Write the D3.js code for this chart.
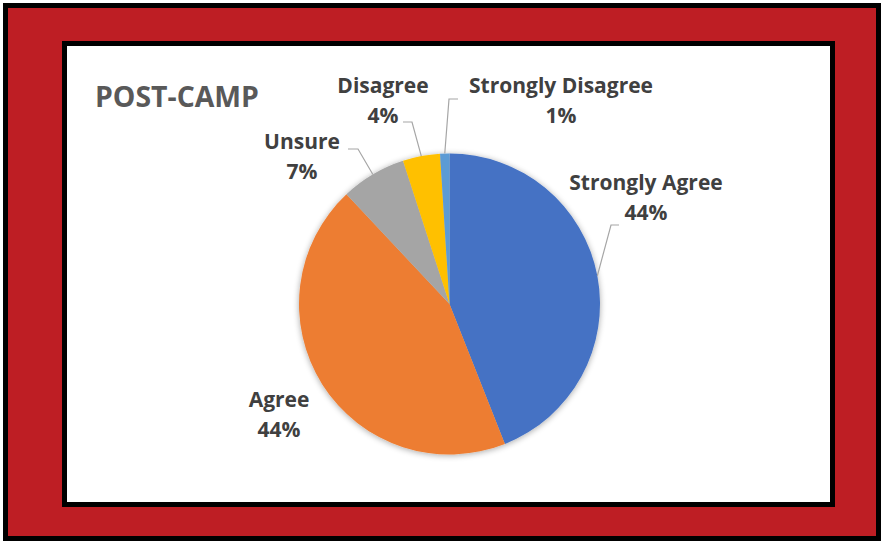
<!DOCTYPE html>
<html>
<head>
<meta charset="utf-8">
<script src="https://cdn.jsdelivr.net/npm/d3@7"></script>
<style>
  html, body { margin: 0; padding: 0; background: #fff; }
  svg { display: block; }
  text { font-family: "Open Sans", "Noto Sans", "Liberation Sans", sans-serif; font-weight: bold; }
</style>
</head>
<body>
<svg id="chart" width="882" height="542"></svg>
<script>
// Survey responses after camp
const categories = ["Strongly Agree", "Agree", "Unsure", "Disagree", "Strongly Disagree"];
const values = [44, 44, 7, 4, 1];
const percentLabels = ["44%", "44%", "7%", "4%", "1%"];
const colors = ["#4472C4", "#ED7D31", "#A5A5A5", "#FFC000", "#5B9BD5"];
const title = "POST-CAMP";

const svg = d3.select("#chart");

// Frame: red band with black borders, white panel inside
svg.append("rect").attr("x", 0).attr("y", 0).attr("width", 882).attr("height", 542).attr("fill", "#fff");
svg.append("rect").attr("x", 5.5).attr("y", 5.5).attr("width", 873).attr("height", 533)
  .attr("fill", "#BE1E24").attr("stroke", "#000").attr("stroke-width", 5);
svg.append("rect").attr("x", 64.5).attr("y", 43.5).attr("width", 768).attr("height", 461)
  .attr("fill", "#fff").attr("stroke", "#000").attr("stroke-width", 5);

// Soft shadow under the pie
const defs = svg.append("defs");
const f = defs.append("filter").attr("id", "pieShadow")
  .attr("x", "-20%").attr("y", "-20%").attr("width", "140%").attr("height", "140%");
f.append("feGaussianBlur").attr("in", "SourceAlpha").attr("stdDeviation", 3).attr("result", "b");
f.append("feOffset").attr("in", "b").attr("dx", 0).attr("dy", 1).attr("result", "o");
f.append("feComponentTransfer").attr("in", "o").attr("result", "s")
  .append("feFuncA").attr("type", "linear").attr("slope", 0.35);
const fm = f.append("feMerge");
fm.append("feMergeNode").attr("in", "s");
fm.append("feMergeNode").attr("in", "SourceGraphic");

// Pick a font size so that a sample string spans the wanted width
function fitSize(sample, width) {
  const probe = svg.append("text").attr("font-size", 20).text(sample);
  const w = probe.node().getComputedTextLength();
  probe.remove();
  return 20 * width / w;
}
const titleSize = fitSize(title, 164);
const labelSize = fitSize("Strongly Disagree", 184);

// Title
svg.append("text").attr("x", 95).attr("y", 107)
  .attr("fill", "#595959").attr("font-size", titleSize).text(title);

// Pie
const cx = 449.5, cy = 304, r = 150.5;
const pie = d3.pie().sort(null).value(d => d)(values);
const arc = d3.arc().innerRadius(0).outerRadius(r);
const outer = d3.arc().innerRadius(r).outerRadius(r);

const g = svg.append("g").attr("transform", `translate(${cx},${cy})`);
g.append("g").attr("filter", "url(#pieShadow)")
  .selectAll("path").data(pie).join("path")
  .attr("d", arc)
  .attr("fill", (d, i) => colors[i]);

// Data label anchors (centre x, first baseline) and leader line elbow + tail
const labelPos = [
  { x: 196.5, y: -114, elbow: [161.5, -79], tail: 8 },   // Strongly Agree
  { x: -170.5, y: 103, elbow: null },                     // Agree
  { x: -147.5, y: -155, elbow: [-91.5, -155], tail: -10 }, // Unsure
  { x: -66.5, y: -211, elbow: [-37.5, -182], tail: -9 },  // Disagree
  { x: 111.5, y: -211, elbow: [-0.5, -205], tail: 9 }     // Strongly Disagree
];

pie.forEach((d, i) => {
  const p = labelPos[i];
  if (p.elbow) {
    const c = outer.centroid(d);
    const e = p.elbow;
    const pts = [[c[0], c[1]], [e[0], e[1]], [e[0] + p.tail, e[1]]];
    g.append("polyline")
      .attr("points", pts.map(q => q.join(",")).join(" "))
      .attr("fill", "none").attr("stroke", "#A6A6A6").attr("stroke-width", 1.2);
  }
  const t = g.append("text").attr("text-anchor", "middle")
    .attr("fill", "#404040").attr("font-size", labelSize);
  t.append("tspan").attr("x", p.x).attr("y", p.y).text(categories[i]);
  t.append("tspan").attr("x", p.x).attr("y", p.y + 30).text(percentLabels[i]);
});
</script>
</body>
</html>
